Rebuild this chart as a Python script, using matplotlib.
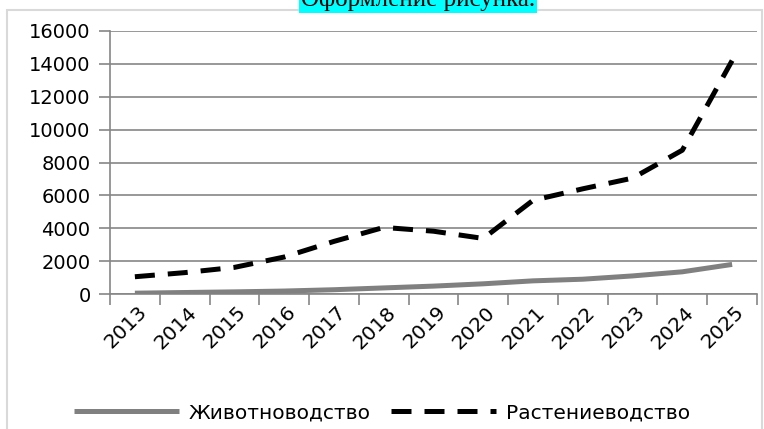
import matplotlib
matplotlib.use("Agg")
import matplotlib.pyplot as plt
import matplotlib.transforms as mtransforms
from matplotlib.patches import Rectangle

years = ["2013", "2014", "2015", "2016", "2017", "2018", "2019",
         "2020", "2021", "2022", "2023", "2024", "2025"]
livestock = [50, 90, 130, 180, 260, 370, 480, 620, 800, 900, 1100, 1350, 1800]
crops = [1050, 1300, 1620, 2250, 3200, 4050, 3820, 3380, 5700, 6400, 7050, 8750, 14200]
yticks = [0, 2000, 4000, 6000, 8000, 10000, 12000, 14000, 16000]
label_livestock = "Животноводство"
label_crops = "Растениеводство"
title_text = "Оформление рисунка."

W, H = 764, 429
fig = plt.figure(figsize=(W / 100, H / 100), dpi=100)
fig.patch.set_facecolor("white")

# outer chart frame
fig.patches.append(Rectangle((7 / W, -0.05), (762 - 7) / W, 1.05 - 10 / H,
                             transform=fig.transFigure, fill=False,
                             edgecolor="#d9d9d9", linewidth=1.5, zorder=0))

left, right, bottom, top = 110 / W, 757 / W, 1 - 294 / H, 1 - 31 / H
ax = fig.add_axes([left, bottom, right - left, top - bottom])

x = list(range(len(years)))
gray = "#808080"
ax.plot(x, livestock, color=gray, linewidth=3.6, solid_capstyle="butt",
        label=label_livestock, zorder=3)
ax.plot(x, crops, color="black", linewidth=3.6, dashes=(4, 2.6),
        dash_capstyle="butt", label=label_crops, zorder=4)

ax.set_xlim(-0.5, len(years) - 0.5)
ax.set_ylim(0, 16000)
ax.set_yticks(yticks)
ax.set_yticklabels([str(v) for v in yticks])
ax.set_xticks([i - 0.5 for i in range(len(years) + 1)], minor=False)
ax.set_xticklabels([""] * (len(years) + 1))
ax.set_xticks(x, minor=True)
ax.set_xticklabels(years, minor=True, rotation=45, ha="right", va="center",
                   rotation_mode="anchor")
ax.tick_params(axis="x", which="minor", length=0, pad=11, labelsize=14.5)
ax.tick_params(axis="x", which="major", length=8, color="#868686", width=1.2)
ax.tick_params(axis="y", length=8, color="#868686", width=1.2, pad=6,
               labelsize=14)
offset = mtransforms.ScaledTranslation(9 / 100, 0, fig.dpi_scale_trans)
for lab in ax.get_xticklabels(minor=True):
    lab.set_transform(lab.get_transform() + offset)

ax.grid(axis="y", color="#868686", linewidth=1.2)
ax.set_axisbelow(True)
for s in ["top", "right"]:
    ax.spines[s].set_visible(False)
for s in ["left", "bottom"]:
    ax.spines[s].set_color("#868686")
    ax.spines[s].set_linewidth(1.2)

leg = fig.legend(loc="center", bbox_to_anchor=(0.5, 1 - 413 / H), ncol=2,
                 frameon=False, fontsize=14.5, handlelength=5.2,
                 handletextpad=0.5, columnspacing=1.0)

fig.text(418 / W, 1 - 6 / H, title_text, family="Liberation Serif",
         fontsize=18, ha="center", va="baseline",
         bbox=dict(facecolor="cyan", edgecolor="none", pad=1))

fig.savefig("out.png", dpi=100)
